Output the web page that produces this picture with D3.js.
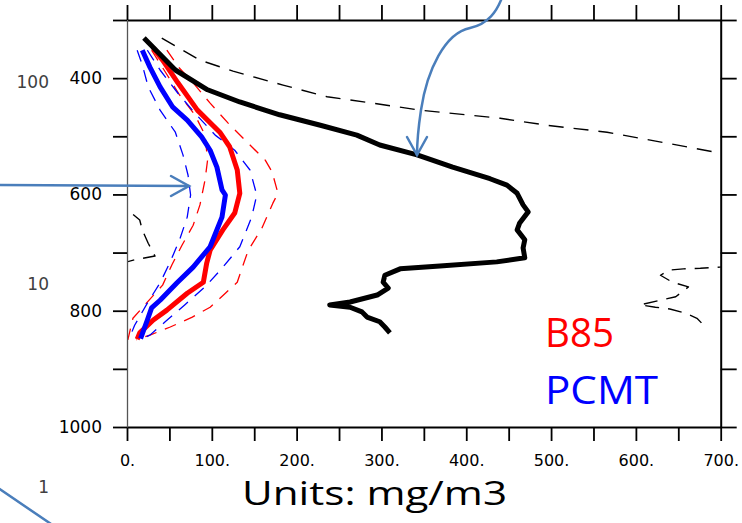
<!DOCTYPE html>
<html>
<head>
<meta charset="utf-8">
<script src="https://cdn.jsdelivr.net/npm/d3@7"></script>
<style>
  body { margin: 0; background: #fff; }
  svg { display: block; }
</style>
</head>
<body>
<div id="chart"></div>
<script>
// values: [concentration (mg/m3), pressure (hPa)]
var obsMean = [[20,331],[57,386],[95,420],[133,441],[180,463],[228,481],[271,498],[298,515],[342,532],
  [384,553],[428,573],[448,584],[460,598],[467,618],[473,630],[463,649],[460,661],[469,678],[467,692],
  [469,709],[436,716],[369,723],[322,728],[304,739],[302,751],[308,761],[295,773],[263,785],[239,790],
  [263,794],[277,802],[283,811],[298,819],[304,828],[310,838]];
var obsUpper = [[41,331],[86,369],[125,388],[184,412],[236,432],[290,443],[345,455],[440,469],[495,481],
  [566,493],[637,512],[700,529],[760,540]];
var obsLowerLeft = [[-15,612],[1,627],[15,644],[18,661],[25,684],[33,706],[10,712],[-15,722]];
var obsLowerRight = [[740,723],[699,725],[676,727],[656,728],[640,730],[629,739],[643,751],[662,759],
  [647,776],[629,782],[605,790],[623,794],[640,797],[658,804],[672,813],[684,831]];

var b85Mean = [[31,348],[42,369],[60,408],[83,455],[110,494],[121,518],[130,558],[133,598],[127,632],
  [113,661],[98,696],[94,718],[90,751],[71,770],[47,799],[31,816],[15,838],[12,849]];
var b85Hi = [[47,352],[62,383],[78,408],[98,443],[119,477],[145,515],[163,541],[171,561],[178,598],
  [172,615],[159,658],[143,696],[136,725],[130,751],[116,770],[98,794],[77,811],[51,828],[27,842],[11,850]];
var b85Lo = [[29,352],[45,389],[62,429],[80,463],[92,498],[95,541],[92,575],[86,618],[78,653],[65,687],
  [53,721],[42,756],[21,790],[7,813],[1,850]];

var pcmtMean = [[18,352],[27,381],[39,415],[54,450],[71,472],[88,501],[98,524],[106,553],[112,592],
  [116,601],[112,639],[98,690],[78,725],[59,752],[39,782],[29,795],[24,816],[16,848]];
var pcmtHi = [[24,352],[39,386],[60,426],[80,460],[104,498],[127,524],[145,558],[153,601],[147,639],
  [133,690],[112,727],[92,759],[68,790],[45,819],[27,842],[15,850]];
var pcmtLo = [[12,352],[18,377],[25,415],[39,455],[57,493],[66,532],[72,567],[75,601],[71,639],[62,678],
  [51,716],[39,752],[24,787],[9,825],[2,850]];

var xTicks = d3.range(0, 701, 50);
var xLabels = [0, 100, 200, 300, 400, 500, 600, 700];
var yTicks = d3.range(300, 1001, 100);
var yLabels = [400, 600, 800, 1000];
var sideLabels = [{t:'100', y:82}, {t:'10', y:284}, {t:'1', y:487}];

var width = 742, height = 523;
var plotLeft = 127, plotRight = 720.7, plotTop = 20, plotBottom = 427;

var svg = d3.select('#chart').append('svg')
  .attr('width', width)
  .attr('height', height)
  .style('background-color', 'white');

var x = d3.scaleLinear().domain([0, 700]).range([plotLeft, plotRight]);
var y = d3.scaleLinear().domain([300, 1000]).range([plotTop, plotBottom]);

svg.append('clipPath').attr('id', 'plotClip')
  .append('rect')
  .attr('x', plotLeft).attr('y', plotTop)
  .attr('width', plotRight - plotLeft).attr('height', plotBottom - plotTop);

var line = d3.line()
  .x(function(d) { return x(d[0]); })
  .y(function(d) { return y(d[1]); });

var plot = svg.append('g').attr('clip-path', 'url(#plotClip)');

function drawLine(data, color, w, dash) {
  plot.append('path')
    .datum(data)
    .attr('d', line)
    .attr('fill', 'none')
    .attr('stroke', color)
    .attr('stroke-width', w)
    .attr('stroke-linejoin', 'round')
    .attr('stroke-dasharray', dash || null);
}

drawLine(obsUpper, 'black', 1.4, '15,10');
drawLine(obsLowerLeft, 'black', 1.4, '14,9');
drawLine(obsLowerRight, 'black', 1.4, '14,9');
drawLine(b85Hi, 'red', 1.3, '12,9');
drawLine(b85Lo, 'red', 1.3, '12,9');
drawLine(pcmtHi, 'blue', 1.3, '12,9');
drawLine(pcmtLo, 'blue', 1.3, '12,9');
drawLine(b85Mean, 'red', 5);
drawLine(pcmtMean, 'blue', 5);
drawLine(obsMean, 'black', 5);

// axes, NCL style: ticks outward on all four sides
var axisB = svg.append('g').attr('transform', 'translate(0,' + plotBottom + ')')
  .call(d3.axisBottom(x).tickValues(xTicks).tickSize(14).tickSizeOuter(0).tickPadding(14)
    .tickFormat(function(d) { return xLabels.indexOf(d) >= 0 ? d + '.' : ''; }));
var axisT = svg.append('g').attr('transform', 'translate(0,' + plotTop + ')')
  .call(d3.axisTop(x).tickValues(xTicks).tickSize(15).tickSizeOuter(0).tickFormat(''));
var axisL = svg.append('g').attr('transform', 'translate(' + plotLeft + ',0)')
  .call(d3.axisLeft(y).tickValues(yTicks).tickSize(14).tickSizeOuter(0).tickPadding(11)
    .tickFormat(function(d) { return yLabels.indexOf(d) >= 0 ? d : ''; }));
var axisR = svg.append('g').attr('transform', 'translate(' + plotRight + ',0)')
  .call(d3.axisRight(y).tickValues(yTicks).tickSize(16).tickSizeOuter(0).tickFormat(''));

[axisB, axisT, axisL, axisR].forEach(function(a) {
  a.selectAll('path.domain').attr('stroke', 'black').attr('stroke-width', 2);
  a.selectAll('.tick line').attr('stroke', 'black').attr('stroke-width', 1.8);
  a.selectAll('text')
    .attr('fill', 'black')
    .style('font-family', 'DejaVu Sans, sans-serif')
    .style('font-size', '16px');
});
axisL.selectAll('path.domain').attr('stroke', '#555').attr('stroke-width', 1.3);
axisL.selectAll('text').style('font-size', '17px');

// labels from the slide
svg.selectAll('text.side')
  .data(sideLabels)
  .enter()
  .append('text')
  .attr('class', 'side')
  .attr('x', 49)
  .attr('y', function(d) { return d.y; })
  .attr('text-anchor', 'end')
  .attr('dy', '0.35em')
  .style('font-family', 'DejaVu Sans, sans-serif')
  .style('font-size', '17px')
  .attr('fill', '#404040')
  .text(function(d) { return d.t; });

svg.append('text')
  .attr('x', 545).attr('y', 347)
  .attr('textLength', 69).attr('lengthAdjust', 'spacingAndGlyphs')
  .style('font-family', 'Open Sans, sans-serif')
  .style('font-size', '40px')
  .attr('fill', 'red')
  .text('B85');
svg.append('text')
  .attr('x', 545).attr('y', 404)
  .attr('textLength', 113).attr('lengthAdjust', 'spacingAndGlyphs')
  .style('font-family', 'Open Sans, sans-serif')
  .style('font-size', '39px')
  .attr('fill', 'blue')
  .text('PCMT');
svg.append('text')
  .attr('x', 242).attr('y', 505)
  .attr('textLength', 265).attr('lengthAdjust', 'spacingAndGlyphs')
  .style('font-family', 'Open Sans, sans-serif')
  .style('font-size', '32px')
  .attr('fill', 'black')
  .text('Units: mg/m3');

// slide arrows
var arrowColor = '#4a7ebb';
var arrows = svg.append('g')
  .attr('fill', 'none')
  .attr('stroke', arrowColor)
  .attr('stroke-width', 2.5)
  .attr('stroke-linecap', 'round');
arrows.append('path').attr('d', 'M-2,185 L189,186');
arrows.append('path').attr('d', 'M171,176 L189,186 L171,196');
arrows.append('path').attr('d', 'M503,-5 C497,12 488,24 470,28 C445,33 427,70 421,110 C418,130 417,145 417,155');
arrows.append('path').attr('d', 'M407,137 L417,155 L427,137');
arrows.append('path').attr('d', 'M-2,488 L54,526');
</script>
</body>
</html>
